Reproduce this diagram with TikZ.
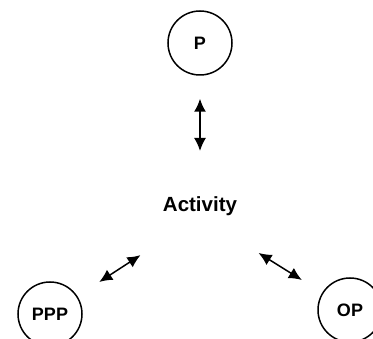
\documentclass[tikz,border=0pt]{standalone}
\usepackage{fontspec}
\setmainfont{Liberation Sans}
\usetikzlibrary{arrows.meta}

\begin{document}
\begin{tikzpicture}[x=1pt,y=-1pt,every node/.style={align=center},
    party/.style={shape=circle,draw,line width=1.5pt,minimum size=64pt,inner sep=0pt,font=\fontsize{18}{20}\selectfont\bfseries},
    link/.style={{Latex[length=13pt,width=12pt]}-{Latex[length=13pt,width=12pt]},line width=1.5pt}]
          \useasboundingbox (0,0) rectangle (373,339);
          \node[party] (P) at (200,43) {P};
          \node[party] (PPP) at (50,314) {PPP};
          \node[party] (OP) at (350,310) {OP};
          \node[inner sep=0pt,anchor=base,font=\fontsize{20.5}{24}\selectfont\bfseries] (act) at (200,212) {Activity};
          \draw[link,shorten <=46pt,shorten >=23pt] (act.north) -- (P);
          \draw[link,shorten <=71pt,shorten >=26pt] (act.south) -- (PPP);
          \draw[link,shorten <=69pt,shorten >=24pt] (act.south) -- (OP);
    \end{tikzpicture}
\end{document}
